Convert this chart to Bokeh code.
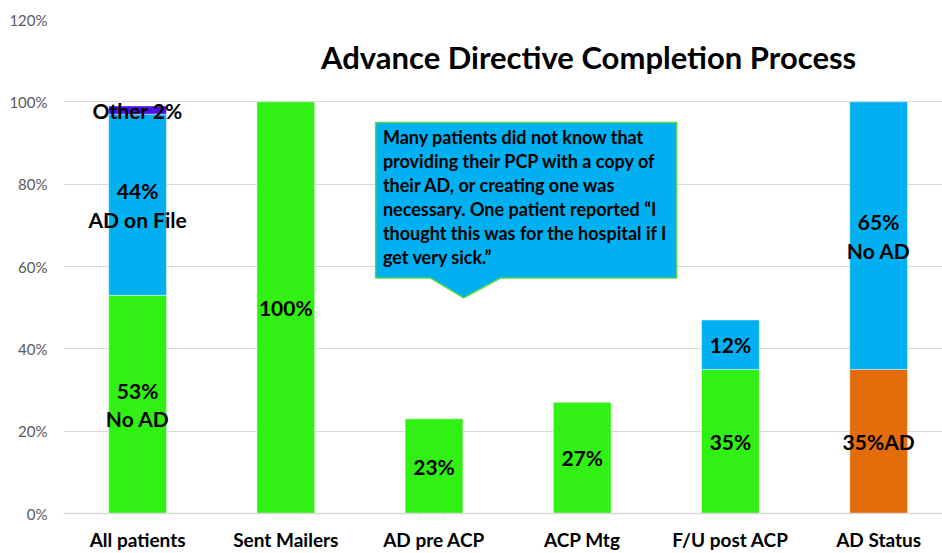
from bokeh.plotting import figure
from bokeh.models import Range1d, FixedTicker, NumeralTickFormatter, ColumnDataSource, Label
from bokeh.core.properties import value
from bokeh.embed import file_html
from bokeh.resources import INLINE

categories = ["All patients", "Sent Mailers", "AD pre ACP", "ACP Mtg", "F/U post ACP", "AD Status"]
green_vals = [0.53, 1.00, 0.23, 0.27, 0.35, 0.0]
orange_vals = [0.0, 0.0, 0.0, 0.0, 0.0, 0.35]
blue_vals = [0.44, 0.0, 0.0, 0.0, 0.12, 0.65]
purple_vals = [0.02, 0.0, 0.0, 0.0, 0.0, 0.0]

green_labels = ["53%\nNo AD", "100%", "23%", "27%", "35%", ""]
orange_labels = ["", "", "", "", "", "35%AD"]
blue_labels = ["44%\nAD on File", "", "", "", "12%", "65%\nNo AD"]
purple_labels = ["Other 2%", "", "", "", "", ""]

y_ticks = [0, 0.2, 0.4, 0.6, 0.8, 1.0, 1.2]
title_text = "Advance Directive Completion Process"
callout_lines = [
    "Many patients did not know that",
    "providing their PCP with a copy of",
    "their AD, or creating one was",
    "necessary. One patient reported \u201cI",
    "thought this was for the hospital if I",
    "get very sick.\u201d",
]

FONT = "Lato"
colors = {"green": "#31F013", "orange": "#E46C0A", "blue": "#00B0F0", "purple": "#4A12E6"}

xs = list(range(len(categories)))
p = figure(width=942, height=553, output_backend="svg", toolbar_location=None,
           x_range=Range1d(-0.5, 5.431), y_range=Range1d(0, 1.2),
           min_border_left=63, min_border_right=0, min_border_top=19, min_border_bottom=39)
p.outline_line_color = None
p.background_fill_color = "white"

series = [("green", green_vals, green_labels), ("orange", orange_vals, orange_labels),
          ("blue", blue_vals, blue_labels), ("purple", purple_vals, purple_labels)]
bottom = [0.0] * len(xs)
lab_x, lab_y, lab_t = [], [], []
for name, vals, labels in series:
    top = [b + v for b, v in zip(bottom, vals)]
    keep = [i for i, v in enumerate(vals) if v > 0]
    src = ColumnDataSource(dict(x=[xs[i] for i in keep], bottom=[bottom[i] for i in keep],
                                top=[top[i] for i in keep]))
    p.vbar(x="x", bottom="bottom", top="top", width=0.39, source=src,
           fill_color=colors[name], line_color="white", line_alpha=0.45, line_width=1)
    for i in keep:
        if labels[i]:
            lab_x.append(xs[i]); lab_y.append(bottom[i] + vals[i] / 2); lab_t.append(labels[i])
    bottom = top

p.text(x=lab_x, y=lab_y, text=lab_t, text_font=value(FONT), text_font_style="bold",
       text_font_size="21px", text_align="center", text_baseline="middle",
       text_line_height=1.15, text_color="black")

# callout
cx = [1.606, 3.637, 3.637, 2.449, 2.20, 1.977, 1.606]
cy = [0.950, 0.950, 0.572, 0.572, 0.524, 0.572, 0.572]
p.patch(cx, cy, fill_color="#00B0F0", line_color="#55D84A", line_width=1.5)
for k, line in enumerate(callout_lines):
    p.add_layout(Label(x=1.655, y=0.915 - k * 24 / 412.5, text=line, text_font=FONT,
                       text_font_style="bold", text_font_size="18px",
                       text_baseline="middle", text_align="left", text_color="black"))

p.add_layout(Label(x=3.043, y=1.108, text=title_text, text_font=FONT, text_font_style="bold",
                   text_font_size="31px", text_align="center", text_baseline="middle",
                   text_color="black"))

p.yaxis.ticker = FixedTicker(ticks=y_ticks)
p.yaxis.formatter = NumeralTickFormatter(format="0%")
p.yaxis.axis_line_color = None
p.yaxis.major_tick_line_color = None
p.yaxis.minor_tick_line_color = None
p.yaxis.major_tick_out = 0
p.yaxis.major_tick_in = 0
p.yaxis.major_label_text_font = FONT
p.yaxis.major_label_text_font_size = "15px"
p.yaxis.major_label_text_color = "#595959"
p.yaxis.major_label_standoff = 16

p.xaxis.ticker = FixedTicker(ticks=xs)
p.xaxis.major_label_overrides = {i: c for i, c in enumerate(categories)}
p.xaxis.axis_line_color = "#D9D9D9"
p.xaxis.axis_line_width = 1.5
p.xaxis.major_tick_line_color = None
p.xaxis.minor_tick_line_color = None
p.xaxis.major_tick_out = 0
p.xaxis.major_tick_in = 0
p.xaxis.major_label_text_font = FONT
p.xaxis.major_label_text_font_style = "bold"
p.xaxis.major_label_text_font_size = "19px"
p.xaxis.major_label_text_color = "black"
p.xaxis.major_label_standoff = 14

p.xgrid.grid_line_color = None
p.ygrid.ticker = FixedTicker(ticks=y_ticks)
p.ygrid.grid_line_color = "#D9D9D9"
p.ygrid.grid_line_width = 1

open("out.html", "w").write(file_html(p, INLINE))
